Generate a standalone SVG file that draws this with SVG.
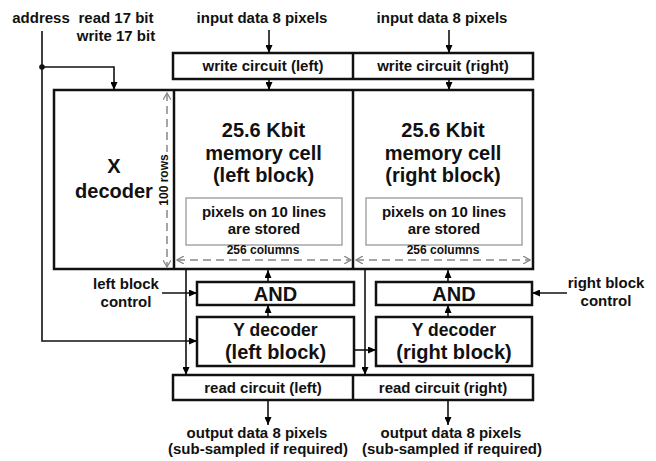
<svg xmlns="http://www.w3.org/2000/svg" width="656" height="461" viewBox="0 0 656 461">
<defs>
<marker id="ah" markerUnits="userSpaceOnUse" markerWidth="8" markerHeight="7" refX="8" refY="3.5" orient="auto"><path d="M0,0 L8,3.5 L0,7 z" fill="#000"/></marker>
<marker id="dh" markerUnits="userSpaceOnUse" markerWidth="8" markerHeight="8" refX="7" refY="4" orient="auto-start-reverse"><path d="M0,0 L7,4 L0,8" fill="none" stroke="#888" stroke-width="1.3"/></marker>
<style>
text{font-family:"Liberation Sans",Arial,sans-serif;font-weight:bold;fill:#111;text-anchor:middle}
.box{fill:#fff;stroke:#111;stroke-width:2.5}
.inner{fill:#fff;stroke:#999;stroke-width:1.3}
.t15{font-size:15px}
.t20{font-size:20px}
.t12{font-size:12px}
.c{fill:none;stroke:#111;stroke-width:1.6}
.a{marker-end:url(#ah)}
.dim{fill:none;stroke:#888;stroke-width:1.5;stroke-dasharray:8 5;marker-start:url(#dh);marker-end:url(#dh)}
</style>
</defs>
<g id="labels">
<text class="t15" x="41" y="23">address</text>
<text class="t15" x="116" y="23">read 17 bit</text>
<text class="t15" x="116" y="41">write 17 bit</text>
<text class="t15" x="262" y="23">input data 8 pixels</text>
<text class="t15" x="442" y="23">input data 8 pixels</text>
<text class="t15" x="126" y="289">left block</text>
<text class="t15" x="126" y="307">control</text>
<text class="t15" x="606" y="288">right block</text>
<text class="t15" x="606" y="306">control</text>
<text class="t15" x="257" y="438">output data 8 pixels</text>
<text class="t15" x="258" y="454">(sub-sampled if required)</text>
<text class="t15" x="451" y="438">output data 8 pixels</text>
<text class="t15" x="452" y="454">(sub-sampled if required)</text>
</g>
<g id="write-circuit">
<rect class="box" x="173" y="53" width="360" height="26"/>
<line x1="353" y1="53" x2="353" y2="79" stroke="#111" stroke-width="2.5"/>
<text class="t15" x="263" y="71">write circuit (left)</text>
<text class="t15" x="443" y="71">write circuit (right)</text>
</g>
<g id="memory">
<rect class="box" x="54" y="90" width="479" height="179"/>
<line x1="174" y1="90" x2="174" y2="269" stroke="#111" stroke-width="2.5"/>
<line x1="353" y1="90" x2="353" y2="269" stroke="#111" stroke-width="2.5"/>
</g>
<g id="x-decoder">
<text class="t20" x="114" y="173">X</text>
<text class="t20" x="114" y="198">decoder</text>
</g>
<g id="memory-left">
<text class="t20" x="263.5" y="137">25.6 Kbit</text>
<text class="t20" x="263.5" y="160">memory cell</text>
<text class="t20" x="263.5" y="182">(left block)</text>
<rect class="inner" x="186" y="198" width="156" height="47"/>
<text class="t15" x="264" y="217">pixels on 10 lines</text>
<text class="t15" x="264" y="234">are stored</text>
<text class="t12" x="263" y="254">256 columns</text>
</g>
<g id="memory-right">
<text class="t20" x="443" y="137">25.6 Kbit</text>
<text class="t20" x="443" y="160">memory cell</text>
<text class="t20" x="443" y="182">(right block)</text>
<rect class="inner" x="366" y="198" width="156" height="47"/>
<text class="t15" x="444" y="217">pixels on 10 lines</text>
<text class="t15" x="444" y="234">are stored</text>
<text class="t12" x="443" y="254">256 columns</text>
</g>
<g id="and-left">
<rect class="box" x="197" y="282" width="157" height="23"/>
<text class="t20" x="275.5" y="301">AND</text>
</g>
<g id="and-right">
<rect class="box" x="376" y="282" width="156" height="23"/>
<text class="t20" x="454" y="301">AND</text>
</g>
<g id="ydec-left">
<rect class="box" x="197" y="317" width="157" height="49"/>
<text x="275.5" y="336" style="font-size:17.5px">Y decoder</text>
<text class="t20" x="275.5" y="359">(left block)</text>
</g>
<g id="ydec-right">
<rect class="box" x="376" y="317" width="156" height="49"/>
<text x="454" y="336" style="font-size:17.5px">Y decoder</text>
<text class="t20" x="454" y="359">(right block)</text>
</g>
<g id="read-circuit">
<rect class="box" x="173" y="375" width="360" height="25"/>
<line x1="353" y1="375" x2="353" y2="400" stroke="#111" stroke-width="2.5"/>
<text class="t15" x="263" y="393">read circuit (left)</text>
<text class="t15" x="443" y="393">read circuit (right)</text>
</g>
<g id="dimensions">
<line class="dim" x1="167" y1="93" x2="167" y2="267"/>
<rect x="156" y="152" width="13" height="56" fill="#fff"/>
<text class="t12" transform="translate(167.5,180) rotate(-90)" x="0" y="0">100 rows</text>
<line class="dim" x1="177" y1="260" x2="351" y2="260"/>
<line class="dim" x1="356" y1="260" x2="530" y2="260"/>
</g>
<g id="connectors">
<line class="c a" x1="269" y1="30" x2="269" y2="53"/>
<line class="c a" x1="449" y1="30" x2="449" y2="53"/>
<line class="c a" x1="269" y1="79" x2="269" y2="90"/>
<line class="c a" x1="449" y1="79" x2="449" y2="90"/>
<polyline class="c a" points="42,31 42,341 197,341"/>
<polyline class="c a" points="42,67 114,67 114,90"/>
<circle cx="42" cy="67" r="2.8" fill="#111"/>
<line class="c a" x1="162" y1="293" x2="197" y2="293"/>
<line class="c a" x1="567" y1="293" x2="532" y2="293"/>
<line class="c a" x1="268" y1="282" x2="268" y2="270"/>
<line class="c a" x1="448" y1="282" x2="448" y2="270"/>
<line class="c a" x1="268" y1="317" x2="268" y2="305"/>
<line class="c a" x1="448" y1="317" x2="448" y2="305"/>
<line class="c a" x1="354" y1="350" x2="376" y2="350"/>
<line class="c a" x1="186" y1="269" x2="186" y2="375"/>
<line class="c a" x1="365" y1="269" x2="365" y2="375"/>
<line class="c a" x1="268" y1="400" x2="268" y2="425"/>
<line class="c a" x1="448" y1="400" x2="448" y2="425"/>
</g>
</svg>
